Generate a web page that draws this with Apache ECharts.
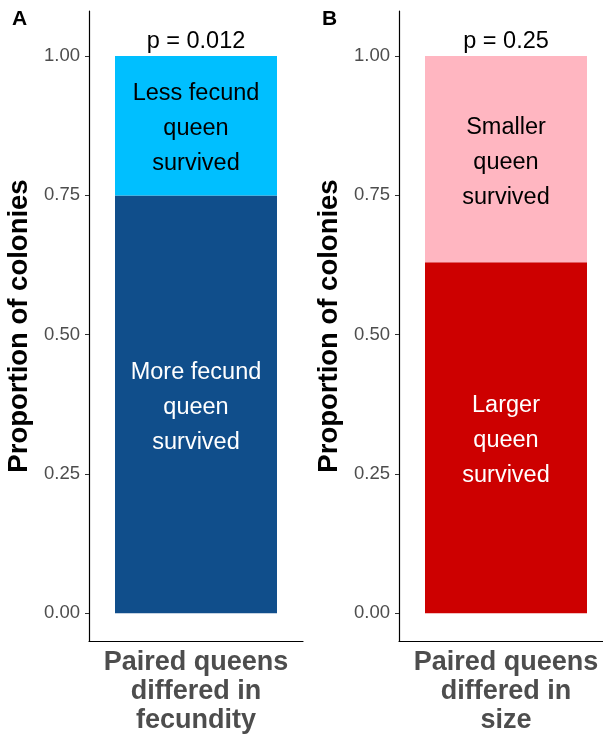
<!DOCTYPE html>
<html>
<head>
<meta charset="utf-8">
<script src="https://cdn.jsdelivr.net/npm/echarts@6/dist/echarts.min.js"></script>
<style>
  html, body { margin: 0; padding: 0; background: #fff; }
  #chart { width: 603px; height: 736px; }
</style>
</head>
<body>
<div id="chart"></div>
<script>
// panel data
const panelLetters = ['A', 'B']
const xTitles = ['Paired queens\ndiffered in\nfecundity', 'Paired queens\ndiffered in\nsize']
const yTitle = 'Proportion of colonies'
const yTicks = [0, 0.25, 0.5, 0.75, 1]
const pValues = ['p = 0.012', 'p = 0.25']

// bottom segment / top segment of each stacked bar
const bottomValues = [0.75, 0.63]
const topValues = [0.25, 0.37]
const bottomLabels = ['More fecund\nqueen\nsurvived', 'Larger\nqueen\nsurvived']
const topLabels = ['Less fecund\nqueen\nsurvived', 'Smaller\nqueen\nsurvived']
const bottomColors = ['#104E8B', '#CD0000']
const topColors = ['#00BFFF', '#FFB6C1']

const FONT = '"Liberation Sans", Arial, sans-serif'
const gridLefts = [89, 399]

const chart = echarts.init(document.getElementById('chart'))

const grids = [], xAxes = [], yAxes = [], series = [], titles = []
panelLetters.forEach((letter, i) => {
  // fixed plot box, no automatic shrinking to fit axis names
  grids.push({ left: gridLefts[i], top: 11, width: 214, height: 630, outerBoundsMode: 'none', containLabel: false })
  titles.push({
    text: letter,
    left: gridLefts[i] - 77, top: 9,
    padding: 0,
    textStyle: { fontFamily: FONT, fontSize: 21, fontWeight: 'bold', color: '#000' }
  })
  xAxes.push({
    type: 'category',
    gridIndex: i,
    data: [''],
    name: xTitles[i],
    nameLocation: 'middle',
    nameGap: 7,
    nameTextStyle: {
      fontFamily: FONT, fontSize: 27, fontWeight: 'bold', color: '#4D4D4D',
      lineHeight: 29, verticalAlign: 'top'
    },
    axisLine: { onZero: false, lineStyle: { color: '#000', width: 1.2 } },
    axisTick: { alignWithLabel: true, length: 4, lineStyle: { color: '#333', width: 1 } },
    axisLabel: { show: false }
  })
  yAxes.push({
    type: 'value',
    gridIndex: i,
    min: -0.05,
    max: 1.081,
    name: yTitle,
    nameLocation: 'middle',
    nameGap: 56,
    nameTextStyle: { fontFamily: FONT, fontSize: 27.5, fontWeight: 'bold', color: '#000' },
    splitLine: { show: false },
    axisLine: { show: true, lineStyle: { color: '#000', width: 1.2 } },
    axisTick: { show: true, length: 4, customValues: yTicks, lineStyle: { color: '#333', width: 1 } },
    axisLabel: {
      customValues: yTicks,
      formatter: v => v.toFixed(2),
      margin: 9,
      fontFamily: FONT, fontSize: 18.5, color: '#4D4D4D'
    }
  })
  const stack = 'panel' + i
  series.push({
    type: 'bar', xAxisIndex: i, yAxisIndex: i, stack,
    barWidth: 162,
    data: [bottomValues[i]],
    itemStyle: { color: bottomColors[i] },
    label: {
      show: true, position: 'inside', offset: [0, 3], formatter: bottomLabels[i],
      fontFamily: FONT, fontSize: 23.5, lineHeight: 35, color: '#fff'
    },
    silent: true
  })
  series.push({
    type: 'bar', xAxisIndex: i, yAxisIndex: i, stack,
    barWidth: 162,
    data: [topValues[i]],
    itemStyle: { color: topColors[i] },
    label: {
      show: true, position: 'inside', offset: [0, 3], formatter: topLabels[i],
      fontFamily: FONT, fontSize: 23.5, lineHeight: 35, color: '#000'
    },
    silent: true
  })
  // zero-height segment carrying the p-value above the bar
  series.push({
    type: 'bar', xAxisIndex: i, yAxisIndex: i, stack,
    barWidth: 162,
    data: [0],
    itemStyle: { color: 'transparent' },
    label: {
      show: true, position: 'top', distance: 3, formatter: pValues[i],
      fontFamily: FONT, fontSize: 23.5, color: '#000'
    },
    silent: true
  })
})

chart.setOption({
  backgroundColor: '#fff',
  animation: false,
  title: titles,
  grid: grids,
  xAxis: xAxes,
  yAxis: yAxes,
  series
})
</script>
</body>
</html>
